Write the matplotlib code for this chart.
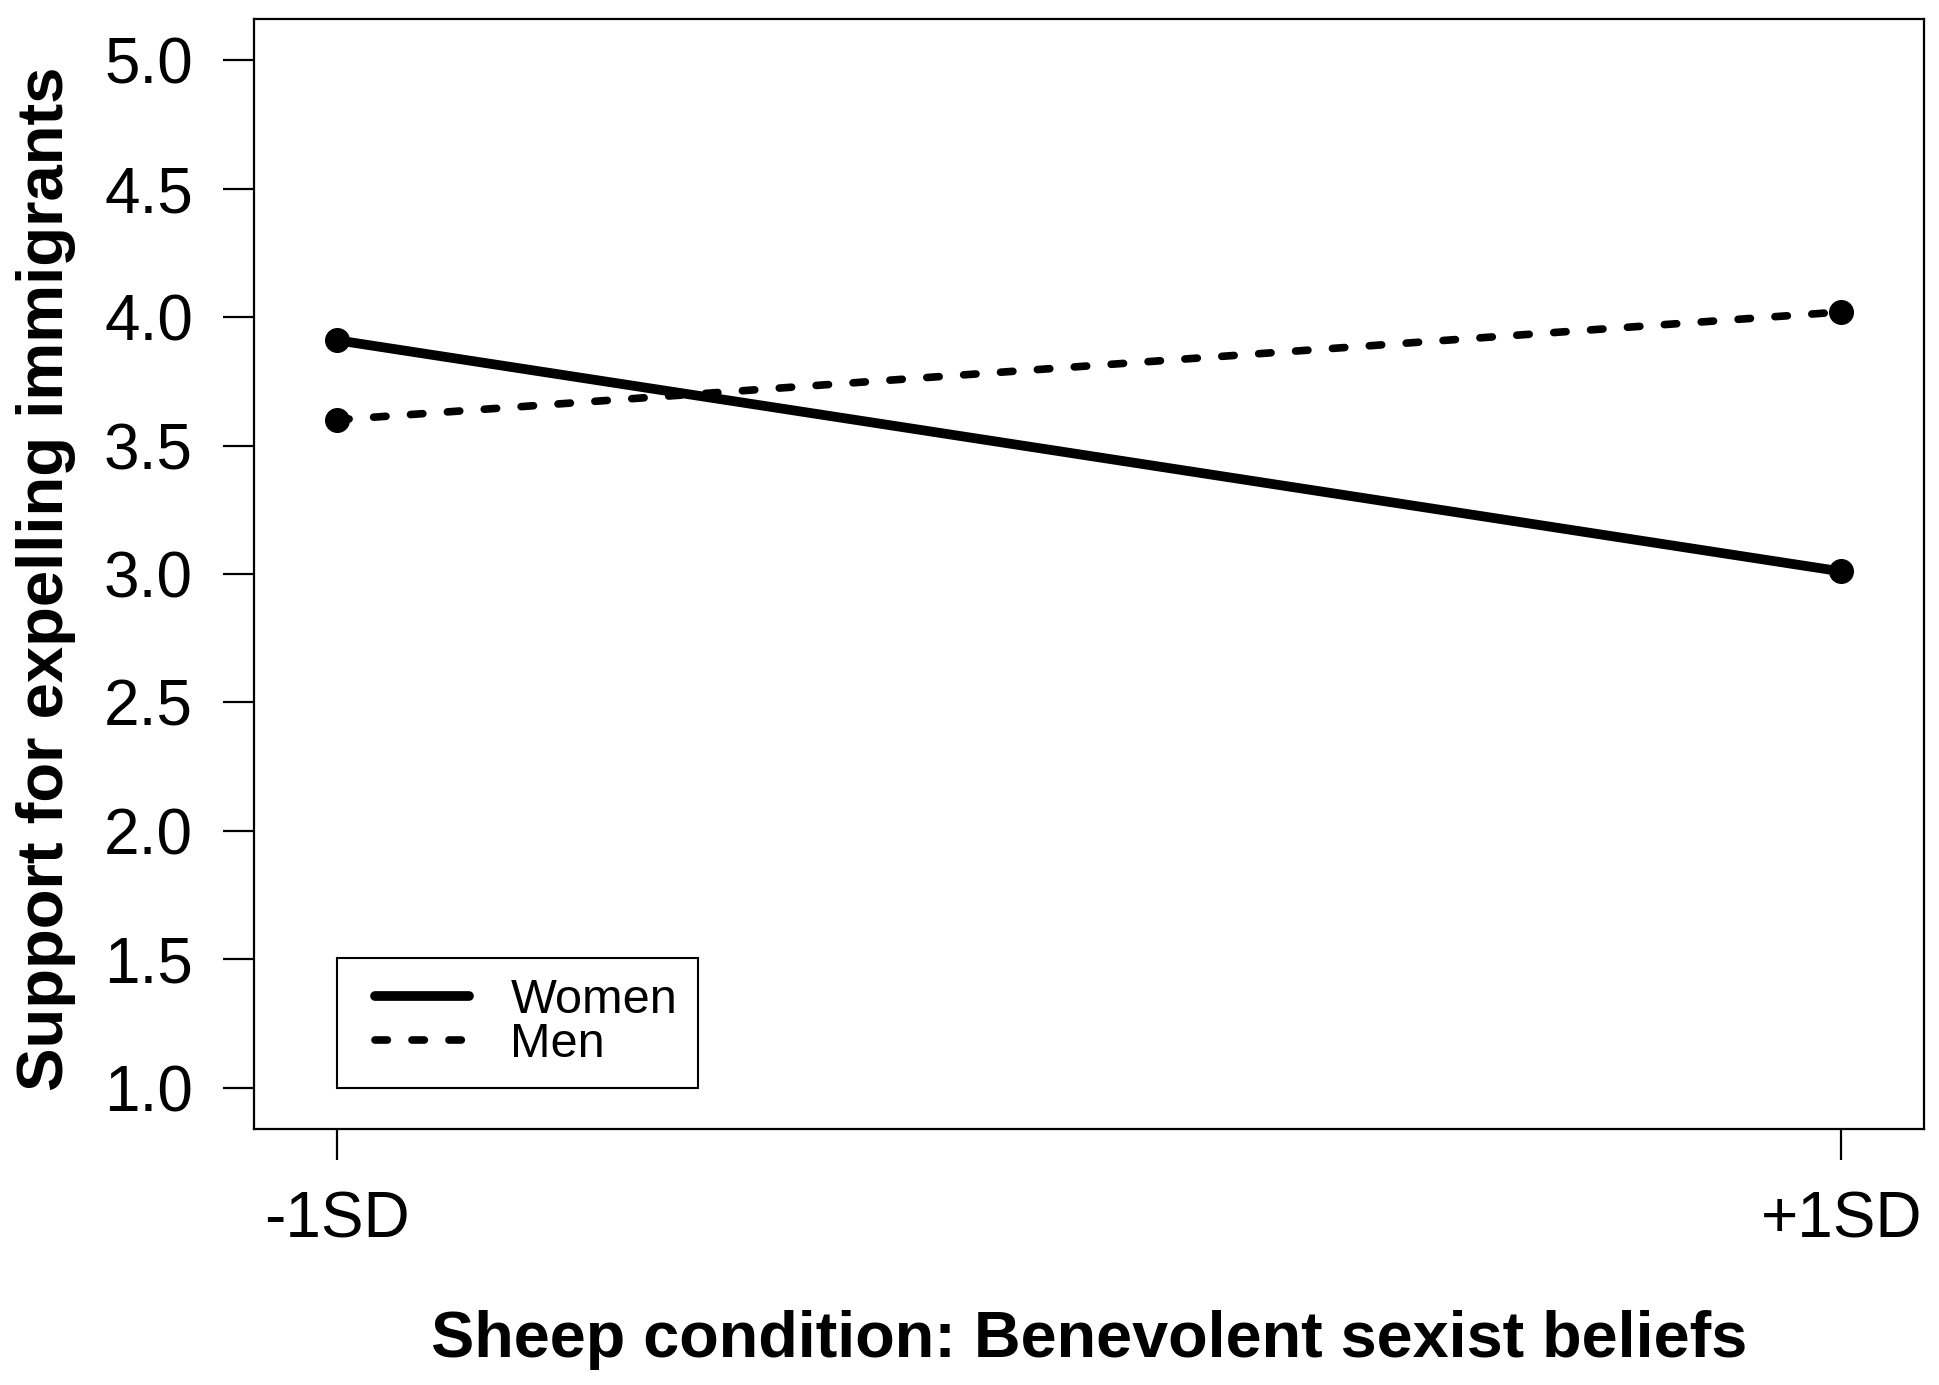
import numpy as np
import matplotlib
matplotlib.use('Agg')
import matplotlib.pyplot as plt
from matplotlib.legend_handler import HandlerLine2D

plt.rcParams['font.family'] = ['Liberation Sans', 'DejaVu Sans']

# simple slopes
levels = ['-1SD', '+1SD']
women = [3.91, 3.01]
men = [3.60, 4.02]
y_ticks = [1.0, 1.5, 2.0, 2.5, 3.0, 3.5, 4.0, 4.5, 5.0]

x = np.arange(len(levels))

fig = plt.figure(figsize=(19.4, 13.85), dpi=100)
ax = fig.add_axes([254 / 1940, 1 - 1129 / 1385, 1670 / 1940, 1110 / 1385])

l_women, = ax.plot(x, women, color='black', lw=7, solid_capstyle='round', label='Women')
l_men, = ax.plot(x, men, color='black', lw=5.5, linestyle=(0, (1.62, 3.22)),
                 dash_capstyle='round', label='Men')
ax.plot(x, women, 'o', color='black', markersize=17)
ax.plot(x, men, 'o', color='black', markersize=17)

ax.set_xlim(-0.055, 1.055)
ax.set_ylim(0.84, 5.16)
ax.set_xticks(x)
ax.set_xticklabels(levels)
ax.set_yticks(y_ticks)
ax.set_yticklabels([f'{v:.1f}' for v in y_ticks])

ax.tick_params(axis='both', direction='out', length=22, width=1.6,
               labelsize=46, color='black')
ax.tick_params(axis='x', pad=22)
ax.tick_params(axis='y', pad=22)
for s in ax.spines.values():
    s.set_linewidth(1.6)

leg = ax.legend(loc='lower left', bbox_to_anchor=(0, 1.0),
                bbox_transform=ax.transData, borderaxespad=0,
                fontsize=35, frameon=True, fancybox=False, framealpha=1,
                edgecolor='black', handlelength=2.3, handletextpad=0.84,
                borderpad=0.43, labelspacing=-0.03,
                handler_map={l_women: HandlerLine2D(xpad=0.35),
                             l_men: HandlerLine2D(xpad=0.35)})
leg.get_frame().set_linewidth(1.5)

fig.text(0.0237, 0.582, 'Support for expelling immigrants', rotation=90,
         ha='center', va='center', fontsize=47, fontweight='bold')
fig.text(0.5613, 0.0202, 'Sheep condition: Benevolent sexist beliefs',
         ha='center', va='baseline', fontsize=46.6, fontweight='bold')

fig.savefig('out.png', dpi=100, facecolor='white')
